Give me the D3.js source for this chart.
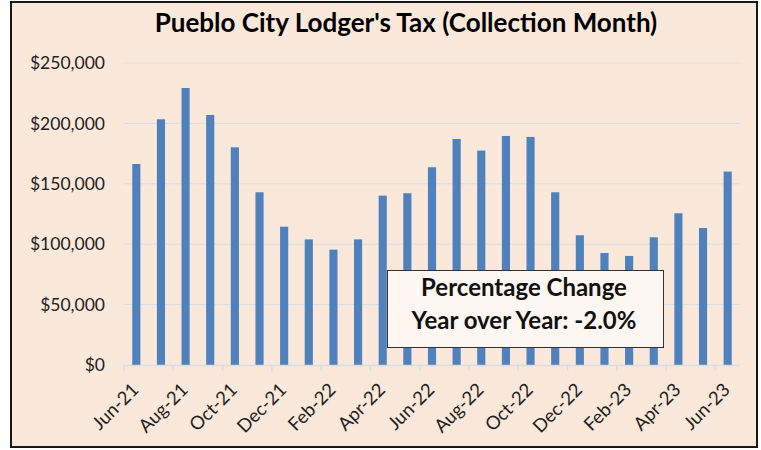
<!DOCTYPE html>
<html>
<head>
<meta charset="utf-8">
<script src="https://cdn.jsdelivr.net/npm/d3@7"></script>
<style>
  body { margin: 0; background: #fff; }
  svg { display: block; font-family: Lato, "Open Sans", sans-serif; }
</style>
</head>
<body>
<svg id="chart" width="761" height="450"></svg>
<script>
// Data
const months = [
  "Jun-21", "Jul-21", "Aug-21", "Sep-21", "Oct-21", "Nov-21", "Dec-21",
  "Jan-22", "Feb-22", "Mar-22", "Apr-22", "May-22", "Jun-22", "Jul-22",
  "Aug-22", "Sep-22", "Oct-22", "Nov-22", "Dec-22", "Jan-23", "Feb-23",
  "Mar-23", "Apr-23", "May-23", "Jun-23"
];
const collections = [
  166400, 203400, 229300, 207000, 180200, 143000, 114500,
  104000, 95500, 104000, 140200, 142200, 163700, 187100,
  177500, 189600, 188800, 143000, 107400, 92700, 90300,
  105700, 125600, 113400, 160100
];
const yTicks = [0, 50000, 100000, 150000, 200000, 250000];
const titleText = "Pueblo City Lodger's Tax (Collection Month)";
const noteLines = ["Percentage Change", "Year over Year: -2.0%"];

// Layout
const plot = { left: 124, right: 740, top: 63, bottom: 365 };
const barColor = "#4F81BD";
const gridColor = "#D9DCE3";

const svg = d3.select("#chart");

// Frame
svg.append("rect")
  .attr("x", 11).attr("y", 2)
  .attr("width", 746).attr("height", 445)
  .attr("fill", "#FAE9DA")
  .attr("stroke", "#1a1a1a")
  .attr("stroke-width", 2);

// Title
svg.append("text")
  .attr("x", 406).attr("y", 32)
  .attr("text-anchor", "middle")
  .attr("font-size", 26)
  .attr("font-weight", "bold")
  .attr("fill", "#000")
  .text(titleText);

// Scales
const x = d3.scaleBand().domain(months).range([plot.left, plot.right]).padding(0);
const y = d3.scaleLinear().domain([0, 250000]).range([plot.bottom, plot.top]);

// Gridlines
svg.append("g")
  .selectAll("line")
  .data(yTicks.slice(1))
  .join("line")
  .attr("x1", plot.left).attr("x2", plot.right)
  .attr("y1", (d) => y(d)).attr("y2", (d) => y(d))
  .attr("stroke", gridColor)
  .attr("stroke-width", 1);

// Y axis labels
svg.append("g")
  .selectAll("text")
  .data(yTicks)
  .join("text")
  .attr("x", 105)
  .attr("y", (d) => y(d))
  .attr("dy", "0.35em")
  .attr("text-anchor", "end")
  .attr("font-size", 17.5)
  .attr("fill", "#222")
  .text((d) => d3.format("$,")(d));

// Bars
const barW = x.bandwidth() * 0.33;
svg.append("g")
  .selectAll("rect")
  .data(collections)
  .join("rect")
  .attr("x", (d, i) => x(months[i]) + (x.bandwidth() - barW) / 2)
  .attr("y", (d) => y(d))
  .attr("width", barW)
  .attr("height", (d) => y(0) - y(d))
  .attr("fill", barColor);

// X axis line + tick marks (every other month)
const tickMonths = months.filter((m, i) => i % 2 === 0);
svg.append("line")
  .attr("x1", plot.left).attr("x2", plot.right)
  .attr("y1", y(0) + 0.5).attr("y2", y(0) + 0.5)
  .attr("stroke", gridColor).attr("stroke-width", 1.5);

svg.append("g")
  .selectAll("line")
  .data(tickMonths)
  .join("line")
  .attr("x1", (d) => x(d)).attr("x2", (d) => x(d))
  .attr("y1", y(0)).attr("y2", y(0) + 6)
  .attr("stroke", gridColor).attr("stroke-width", 1.5);

// X labels, rotated
svg.append("g")
  .selectAll("text")
  .data(tickMonths)
  .join("text")
  .attr("transform", (d) => `translate(${x(d) + x.bandwidth() / 2 + 3.5},${y(0) + 26}) rotate(-45)`)
  .attr("text-anchor", "end")
  .attr("font-size", 18.5)
  .attr("fill", "#222")
  .text((d) => d);

// Annotation box
const note = svg.append("g");
note.append("rect")
  .attr("x", 387.5).attr("y", 270.5)
  .attr("width", 276).attr("height", 77)
  .attr("fill", "#FEF6F0")
  .attr("stroke", "#333")
  .attr("stroke-width", 1);

note.selectAll("text")
  .data(noteLines)
  .join("text")
  .attr("x", 524)
  .attr("y", (d, i) => 296 + i * 33)
  .attr("text-anchor", "middle")
  .attr("font-size", 24)
  .attr("font-weight", "bold")
  .attr("fill", "#111")
  .text((d) => d);
</script>
</body>
</html>
